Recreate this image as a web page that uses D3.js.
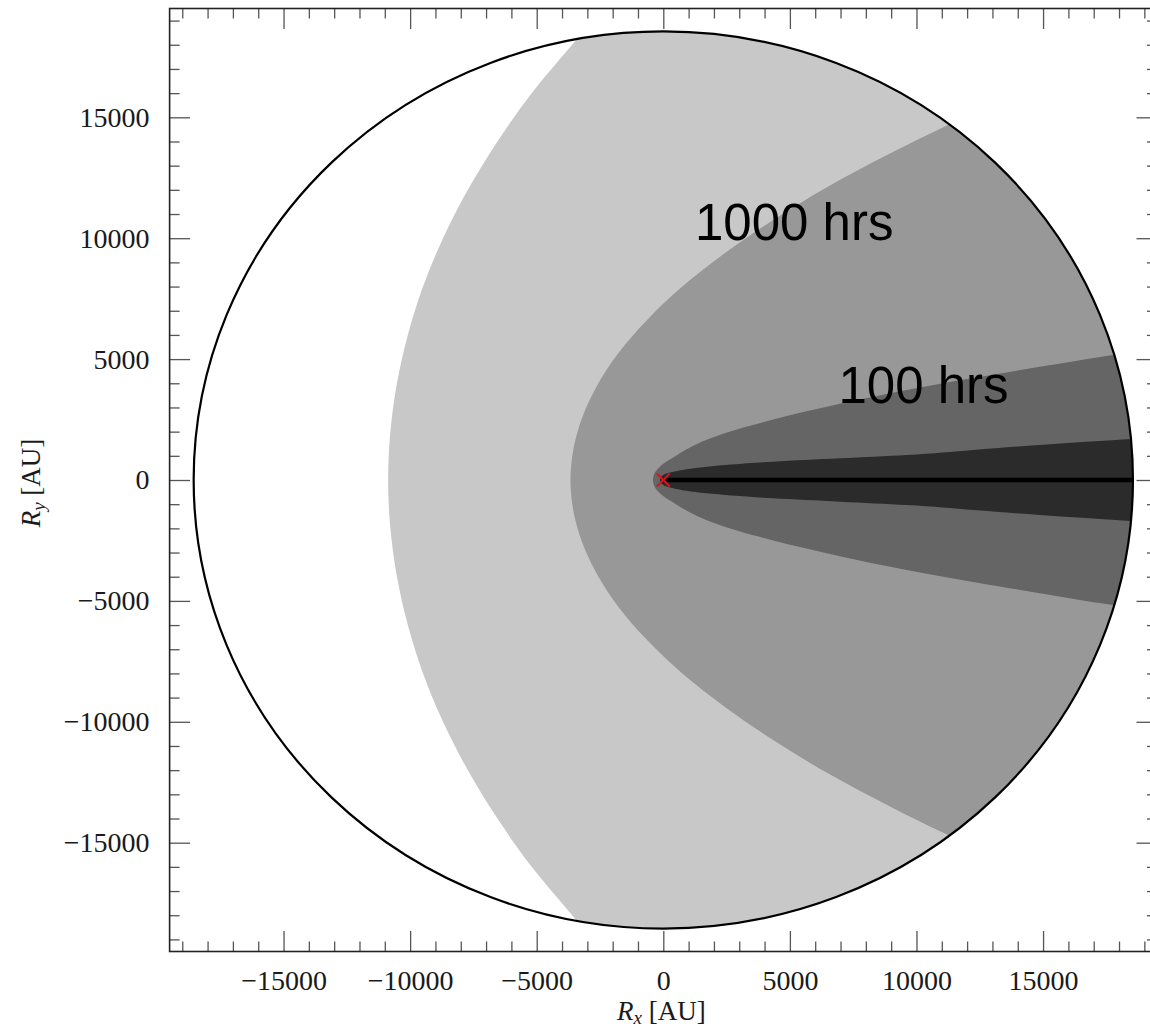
<!DOCTYPE html>
<html>
<head>
<meta charset="utf-8">
<script src="https://cdn.jsdelivr.net/npm/d3@7"></script>
<style>
  body { margin: 0; background: #fff; }
  .tick text { font-family: "Liberation Serif", "DejaVu Serif", serif; font-size: 28px; fill: #1a1a1a; }
  .tick line { stroke: #555; stroke-width: 1.3; }
  .axis-title { font-family: "Liberation Serif", "DejaVu Serif", serif; font-size: 27px; fill: #1a1a1a; }
  .hrs { font-family: "Liberation Sans", Arial, sans-serif; font-size: 51px; fill: #000; }
</style>
</head>
<body>
<div id="chart"></div>
<script>
// plot range in AU
var domainMin = -19500, domainMax = 19500;
var majorTicks = [-15000, -10000, -5000, 0, 5000, 10000, 15000];
var minorTicks = d3.range(-19000, 19001, 1000).filter(function(v) { return v % 5000 !== 0; });

// radius of the outer circle (AU)
var circleRadius = 18550;

// upper-half boundaries of the shaded zones, [Rx, Ry] in AU
var outerEdge = [[-10870, 0], [-10780, 2000], [-10520, 4000], [-10090, 6000], [-9490, 8000],
  [-8700, 10000], [-7720, 12000], [-6550, 14000], [-5200, 16000], [-3600, 18000], [-2400, 19500]];
var edge1000 = [[-3665, 0], [-3580, 1100], [-3300, 2300], [-2640, 3860], [-1780, 5240], [-640, 6620],
  [740, 7990], [2420, 9375], [4340, 10750], [6500, 12130], [8970, 13510], [11100, 14610], [13400, 15700]];
var edge100 = [[-410, 0], [-385, 170], [-310, 340], [-160, 530], [100, 740], [395, 930], [1000, 1310],
  [1714, 1660], [3000, 2120], [4344, 2500], [6979, 3150], [9613, 3720], [12243, 4220], [14877, 4680],
  [17772, 5170], [19500, 5420]];
var edge10 = [[-130, 0], [-110, 90], [-50, 170], [100, 260], [395, 345], [1714, 552], [4344, 758],
  [6979, 896], [9613, 1034], [12243, 1241], [14877, 1448], [18302, 1682], [19500, 1760]];

var zoneEdges = [outerEdge, edge1000, edge100, edge10];
var zoneColors = ["#c8c8c8", "#989898", "#656565", "#2b2b2b"];

var labels = [
  {text: "1000 hrs", x: 1250, y: 9925},
  {text: "100 hrs", x: 6920, y: 3185}
];

var width = 1150, height = 1028;

var svg = d3.select("#chart").append("svg")
  .attr("width", width)
  .attr("height", height);

var x = d3.scaleLinear().domain([domainMin, domainMax]).range([169.6, 1157]);
var y = d3.scaleLinear().domain([domainMin, domainMax]).range([951.5, 8.5]);

// clip everything to the circle (an ellipse on screen, axes are not equal)
svg.append("defs").append("clipPath")
  .attr("id", "disk")
  .append("ellipse")
  .attr("cx", x(0))
  .attr("cy", y(0))
  .attr("rx", x(circleRadius) - x(0))
  .attr("ry", y(0) - y(circleRadius));

// turn an upper-half edge into a closed zone extending to the right
function zonePolygon(edge) {
  var top = edge.slice().reverse();
  var bottom = edge.slice(1).map(function(p) { return [p[0], -p[1]]; });
  var last = edge[edge.length - 1];
  return [[25000, last[1]]].concat(top, bottom, [[25000, -last[1]]]);
}

var line = d3.line()
  .x(function(d) { return x(d[0]); })
  .y(function(d) { return y(d[1]); })
  .curve(d3.curveMonotoneY);

var zones = svg.append("g").attr("clip-path", "url(#disk)");

zones.selectAll("path")
  .data(zoneEdges)
  .enter().append("path")
  .attr("d", function(d) {
    // the curved edge first, then the straight closing part outside the circle
    var pts = zonePolygon(d);
    var curve = line(pts.slice(1, pts.length - 1));
    var a = pts[0], b = pts[pts.length - 1];
    return curve + "L" + x(b[0]) + "," + y(b[1]) + "L" + x(a[0]) + "," + y(a[1]) + "Z";
  })
  .attr("fill", function(d, i) { return zoneColors[i]; })
  .attr("stroke", "none");

// axis line Ry = 0
svg.append("line")
  .attr("x1", x(0)).attr("x2", x(circleRadius))
  .attr("y1", y(0)).attr("y2", y(0))
  .attr("stroke", "#000")
  .attr("stroke-width", 4.5);

// circle outline
svg.append("ellipse")
  .attr("cx", x(0))
  .attr("cy", y(0))
  .attr("rx", x(circleRadius) - x(0))
  .attr("ry", y(0) - y(circleRadius))
  .attr("fill", "none")
  .attr("stroke", "#000")
  .attr("stroke-width", 2.2);

// red cross at origin
var s = 6.5;
svg.append("path")
  .attr("d", "M" + (x(0) - s) + "," + (y(0) - s) + "L" + (x(0) + s) + "," + (y(0) + s) +
             "M" + (x(0) - s) + "," + (y(0) + s) + "L" + (x(0) + s) + "," + (y(0) - s))
  .attr("stroke", "#e3101a")
  .attr("stroke-width", 1.8)
  .attr("fill", "none");

svg.selectAll(".hrs")
  .data(labels)
  .enter().append("text")
  .attr("class", "hrs")
  .attr("x", function(d) { return x(d.x); })
  .attr("y", function(d) { return y(d.y); })
  .text(function(d) { return d.text; });

// axes: ticks pointing inward on all four sides
var fmt = d3.format("d");

function addAxis(axis, tx, ty) {
  var g = svg.append("g").attr("transform", "translate(" + tx + "," + ty + ")").call(axis);
  g.select(".domain").remove();
  return g;
}

addAxis(d3.axisBottom(x).tickValues(majorTicks).tickFormat(fmt).tickSize(-20.5).tickPadding(18.5), 0, y(domainMin));
addAxis(d3.axisBottom(x).tickValues(minorTicks).tickFormat("").tickSize(-10), 0, y(domainMin));
addAxis(d3.axisTop(x).tickValues(majorTicks).tickFormat("").tickSize(-20.5), 0, y(domainMax));
addAxis(d3.axisTop(x).tickValues(minorTicks).tickFormat("").tickSize(-10), 0, y(domainMax));
addAxis(d3.axisLeft(y).tickValues(majorTicks).tickFormat(fmt).tickSize(-20.5).tickPadding(20), x(domainMin), 0);
addAxis(d3.axisLeft(y).tickValues(minorTicks).tickFormat("").tickSize(-10), x(domainMin), 0);
addAxis(d3.axisRight(y).tickValues(majorTicks).tickFormat("").tickSize(-20.5), x(domainMax), 0);
addAxis(d3.axisRight(y).tickValues(minorTicks).tickFormat("").tickSize(-10), x(domainMax), 0);

svg.selectAll(".tick text").attr("font-family", null).attr("font-size", null);

// frame
svg.append("rect")
  .attr("x", x(domainMin))
  .attr("y", y(domainMax))
  .attr("width", x(domainMax) - x(domainMin))
  .attr("height", y(domainMin) - y(domainMax))
  .attr("fill", "none")
  .attr("stroke", "#222")
  .attr("stroke-width", 1.6);

// axis titles
var xt = svg.append("text")
  .attr("class", "axis-title")
  .attr("x", x(0) - 2)
  .attr("y", 1020)
  .attr("text-anchor", "middle");
xt.append("tspan").attr("font-style", "italic").text("R");
xt.append("tspan").attr("font-style", "italic").attr("font-size", "19px").attr("dy", 4).text("x");
xt.append("tspan").attr("dy", -4).text(" [AU]");

var yt = svg.append("text")
  .attr("class", "axis-title")
  .attr("transform", "translate(40," + (y(0) + 3) + ") rotate(-90)")
  .attr("text-anchor", "middle");
yt.append("tspan").attr("font-style", "italic").text("R");
yt.append("tspan").attr("font-style", "italic").attr("font-size", "19px").attr("dy", 5).text("y");
yt.append("tspan").attr("dy", -5).text(" [AU]");
</script>
</body>
</html>
